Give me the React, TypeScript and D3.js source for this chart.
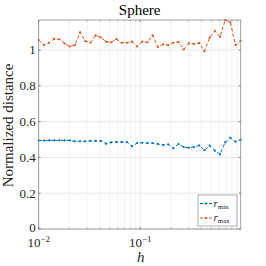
import React from 'react';
import * as d3 from 'd3';

const H = [0.01, 0.01125, 0.01265, 0.01422, 0.016, 0.01799, 0.02023, 0.02275, 0.02559, 0.02877,
  0.03236, 0.03639, 0.04093, 0.04603, 0.05176, 0.05821, 0.06546, 0.07362, 0.08279, 0.09311,
  0.1047, 0.1178, 0.1324, 0.1489, 0.1675, 0.1884, 0.2118, 0.2382, 0.2679, 0.3013,
  0.3388, 0.3811, 0.4285, 0.4819, 0.542, 0.6095, 0.6855, 0.7709, 0.867, 0.975];

const R_MIN = [0.495, 0.494, 0.495, 0.495, 0.495, 0.495, 0.495, 0.49, 0.49, 0.49,
  0.492, 0.492, 0.492, 0.477, 0.484, 0.486, 0.486, 0.486, 0.462, 0.48,
  0.482, 0.48, 0.48, 0.475, 0.469, 0.473, 0.451, 0.475, 0.458, 0.454,
  0.458, 0.467, 0.44, 0.466, 0.438, 0.417, 0.484, 0.51, 0.488, 0.499];

const R_MAX = [1.056, 1.028, 1.041, 1.063, 1.06, 1.037, 1.02, 1.028, 1.099, 1.05,
  1.041, 1.082, 1.071, 1.047, 1.043, 1.061, 1.041, 1.041, 1.047, 1.02,
  1.047, 1.043, 1.082, 1.017, 1.032, 1.028, 1.041, 1.045, 1.004, 1.037,
  1.035, 1.039, 0.994, 1.069, 1.106, 1.074, 1.168, 1.155, 1.028, 1.052];

const Y_TICKS = [0, 0.2, 0.4, 0.6, 0.8, 1];
const X_TICKS = [0.01, 0.1];
const X_TICK_EXP = ['\u22122', '\u22121'];

const W = 266, HT = 266;
const M = { left: 38.7, right: 240.7, top: 20, bottom: 229 };
const BLUE = '#0072BD';
const ORANGE = '#D95319';
const FONT = "'Liberation Serif', 'DejaVu Serif', serif";

export default function App() {
  const x = d3.scaleLog().domain([0.01, 0.975]).range([M.left, M.right]);
  const y = d3.scaleLinear().domain([0, 1.168]).range([M.bottom, M.top]);
  const line = d3.line<number>().x((_, i) => x(H[i])).y(d => y(d));

  const minor: number[] = [];
  [0.01, 0.1].forEach(dec => {
    for (let k = 2; k <= 9; k++) {
      const v = dec * k;
      if (v <= 0.975) minor.push(v);
    }
  });

  const series = [
    { vals: R_MIN, color: BLUE },
    { vals: R_MAX, color: ORANGE },
  ];

  const lx = 198, ly = 195, lw = 39, lh = 31;
  const ts = { fontFamily: FONT, fontWeight: 400 as const };

  return (
    <div style={{ position: 'absolute', left: 0, top: 0 }}>
      <svg width={W} height={HT} style={{ display: 'block', background: '#fff' }}>
        <rect x={M.left} y={M.top} width={M.right - M.left} height={M.bottom - M.top} fill="#fff" />
        {minor.map((v, i) => (
          <line key={'mg' + i} x1={x(v)} x2={x(v)} y1={M.top} y2={M.bottom} stroke="#efefef" strokeWidth={0.8} />
        ))}
        {X_TICKS.map((v, i) => (
          <line key={'xg' + i} x1={x(v)} x2={x(v)} y1={M.top} y2={M.bottom} stroke="#e2e2e2" strokeWidth={0.8} />
        ))}
        {Y_TICKS.map((v, i) => (
          <line key={'yg' + i} x1={M.left} x2={M.right} y1={y(v)} y2={y(v)} stroke="#e2e2e2" strokeWidth={0.8} />
        ))}
        {series.map((s, si) => (
          <g key={'s' + si}>
            <path d={line(s.vals) || ''} fill="none" stroke={s.color} strokeWidth={1} strokeDasharray="3.5,2" />
            {s.vals.map((v, i) => (
              <circle key={i} cx={x(H[i])} cy={y(v)} r={1.1} fill={s.color} />
            ))}
          </g>
        ))}
        <rect x={M.left} y={M.top} width={M.right - M.left} height={M.bottom - M.top} fill="none" stroke="#8c8c8c" strokeWidth={0.8} />
        {Y_TICKS.map((v, i) => (
          <g key={'yt' + i}>
            <line x1={M.left} x2={M.left + 2} y1={y(v)} y2={y(v)} stroke="#555" strokeWidth={0.7} />
            <line x1={M.right} x2={M.right - 2} y1={y(v)} y2={y(v)} stroke="#555" strokeWidth={0.7} />
            <text x={M.left - 3} y={y(v) - (v === 0 ? 1.5 : 0)} dy="0.33em" textAnchor="end" style={{ ...ts, fontSize: 13 }} fill="#262626">
              {String(v)}
            </text>
          </g>
        ))}
        {minor.map((v, i) => (
          <g key={'mt' + i}>
            <line x1={x(v)} x2={x(v)} y1={M.bottom} y2={M.bottom - 1.2} stroke="#777" strokeWidth={0.6} />
            <line x1={x(v)} x2={x(v)} y1={M.top} y2={M.top + 1.2} stroke="#777" strokeWidth={0.6} />
          </g>
        ))}
        {X_TICKS.map((v, i) => (
          <g key={'xt' + i}>
            <line x1={x(v)} x2={x(v)} y1={M.bottom} y2={M.bottom - 2} stroke="#555" strokeWidth={0.7} />
            <line x1={x(v)} x2={x(v)} y1={M.top} y2={M.top + 2} stroke="#555" strokeWidth={0.7} />
            <text x={x(v)} y={247} textAnchor="middle" style={{ ...ts, fontSize: 13 }} fill="#262626">
              10<tspan style={{ fontSize: 9 }} dy={-5}>{X_TICK_EXP[i]}</tspan>
            </text>
          </g>
        ))}
        <text x={(M.left + M.right) / 2} y={15} textAnchor="middle" style={{ ...ts, fontSize: 15 }} fill="#000">Sphere</text>
        <text x={(M.left + M.right) / 2 + 1} y={262} textAnchor="middle" style={{ ...ts, fontSize: 15, fontStyle: 'italic' }} fill="#262626">h</text>
        <text transform={`translate(13,${(M.top + M.bottom) / 2 + 1}) rotate(-90)`} textAnchor="middle" style={{ ...ts, fontSize: 15 }} fill="#262626">Normalized distance</text>
        <rect x={lx} y={ly} width={lw} height={lh} fill="#fff" stroke="#8c8c8c" strokeWidth={0.7} />
        {series.map((s, si) => {
          const yy = ly + 8.5 + si * 14.5;
          return (
            <g key={'l' + si}>
              <line x1={lx + 2} x2={lx + 14} y1={yy} y2={yy} stroke={s.color} strokeWidth={1} strokeDasharray="3,1.5" />
              <circle cx={lx + 8} cy={yy} r={1.1} fill={s.color} />
              <text x={lx + 15.5} y={yy + 3} style={{ ...ts, fontSize: 11 }} fill="#262626">
                <tspan style={{ fontStyle: 'italic' }}>r</tspan>
                <tspan style={{ fontSize: 7 }} dy={2}>{si === 0 ? 'min' : 'max'}</tspan>
              </text>
            </g>
          );
        })}
      </svg>
    </div>
  );
}
